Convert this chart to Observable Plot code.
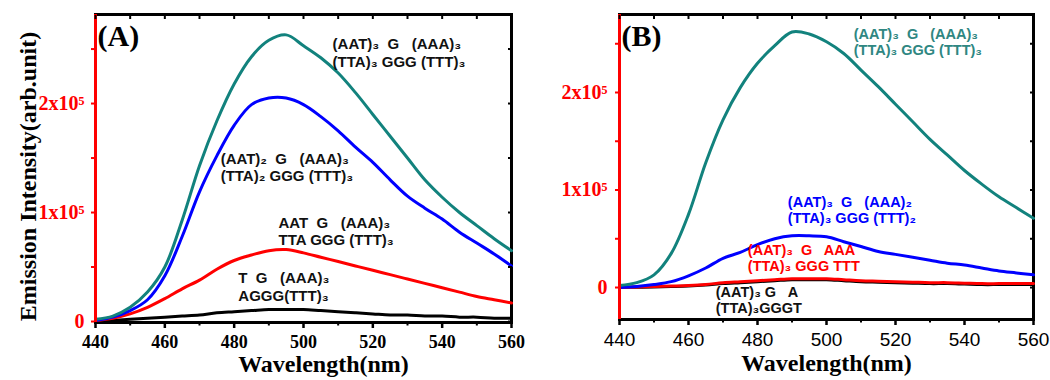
<!DOCTYPE html>
<html><head><meta charset="utf-8">
<script src="https://cdn.jsdelivr.net/npm/d3@7"></script>
<script src="https://cdn.jsdelivr.net/npm/@observablehq/plot@0.6"></script>
<style>
html,body{margin:0;padding:0;background:#fff;}
#wrap{display:flex;width:1050px;height:380px;overflow:hidden;}
#wrap > div{width:525px;height:380px;}
svg{overflow:visible;}
svg text{white-space:pre;}
</style></head><body><div id="wrap"><div id="a"></div><div id="b"></div></div>
<script>
// Wavelength grid (nm)
const wavelength = [440,445,450,455,460,465,470,475,480,485,490,495,500,505,510,515,520,525,530,535,540,545,550,555,560];

// Panel A intensities (units of 1e5 arb.)
const aTeal  = [0.02,0.05,0.13,0.27,0.50,0.93,1.43,1.84,2.18,2.43,2.58,2.63,2.53,2.42,2.28,2.10,1.90,1.70,1.50,1.30,1.14,1.00,0.88,0.76,0.65];
const aBlue  = [0.01,0.04,0.10,0.20,0.42,0.78,1.19,1.52,1.80,1.99,2.05,2.05,1.99,1.88,1.75,1.60,1.46,1.30,1.15,1.04,0.94,0.82,0.72,0.62,0.51];
const aRed   = [0.01,0.03,0.07,0.13,0.21,0.30,0.38,0.48,0.56,0.61,0.65,0.66,0.63,0.59,0.55,0.51,0.47,0.43,0.39,0.35,0.31,0.27,0.23,0.20,0.17];
const aBlack = [0.00,0.01,0.02,0.03,0.04,0.05,0.06,0.08,0.09,0.10,0.11,0.11,0.11,0.10,0.09,0.08,0.07,0.06,0.06,0.05,0.05,0.04,0.04,0.03,0.03];

// Panel B intensities (units of 1e5 arb.)
const bTeal  = [0.02,0.05,0.13,0.35,0.75,1.28,1.72,2.05,2.30,2.48,2.62,2.60,2.52,2.40,2.23,2.06,1.88,1.70,1.52,1.36,1.20,1.06,0.93,0.82,0.71];
const bBlue  = [0.00,0.01,0.03,0.06,0.12,0.20,0.30,0.36,0.44,0.50,0.53,0.53,0.52,0.47,0.42,0.37,0.34,0.31,0.28,0.25,0.23,0.20,0.17,0.15,0.13];
const bRed   = [0.00,0.005,0.01,0.015,0.02,0.03,0.05,0.06,0.07,0.08,0.09,0.09,0.09,0.08,0.07,0.065,0.06,0.055,0.05,0.05,0.045,0.04,0.04,0.04,0.04];
const bBlack = [0.00,0.003,0.006,0.01,0.015,0.025,0.04,0.05,0.06,0.07,0.08,0.08,0.08,0.07,0.06,0.055,0.05,0.045,0.04,0.04,0.035,0.03,0.03,0.03,0.03];

// Series labels
const labelsA = [
  "(AAT)₃  G   (AAA)₃\n(TTA)₃ GGG (TTT)₃",
  "(AAT)₂  G   (AAA)₃\n(TTA)₂ GGG (TTT)₃",
  "AAT  G   (AAA)₃\nTTA GGG (TTT)₃",
  "T  G   (AAA)₃\nAGGG(TTT)₃"
];
const labelsB = [
  "(AAT)₃  G   (AAA)₃\n(TTA)₃ GGG (TTT)₃",
  "(AAT)₃  G   (AAA)₂\n(TTA)₃ GGG (TTT)₂",
  "(AAT)₃  G   AAA\n(TTA)₃ GGG TTT",
  "(AAT)₃ G   A\n(TTA)₃GGGT"
];
const seriesKeys = ["teal","blue","red","black"];

// Tick values
const xMajor = [440,460,480,500,520,540,560];
const xMinor = [450,470,490,510,530,550];
const yTicks = [0,0.5,1,1.5,2,2.5];
const panelNames = ["(A)","(B)"];
const xTitle = "Wavelength(nm)";
const yTitle = "Emission Intensity(arb.unit)";

// Styling / placement (not data)
const colors = {teal:"#12827d", blue:"#0000ff", red:"#ff0000", black:"#000000"};
const textColors = {teal:"#2f8782", blue:"#0000ff", red:"#ff0000", black:"#111111"};
const anchorsA = [[508.4,2.47],[476.1,1.42],[492.8,0.83],[481.2,0.32]];
const anchorsB = [[507.9,2.52],[488.8,0.80],[477.2,0.30],[467.9,-0.13]];

const serif = "Liberation Serif, Times New Roman, serif";
const sans = "Liberation Sans, Arial, sans-serif";

function rows(values, key) {
  return wavelength.map((w, i) => ({wavelength: w, intensity: values[i], key}));
}
const yFmt = d => d === 0 ? "0" : (Number.isInteger(d) ? d + "x10⁵" : "");

function panel(o) {
  const data = [
    ...rows(o.series.black, "black"),
    ...rows(o.series.red, "red"),
    ...rows(o.series.blue, "blue"),
    ...rows(o.series.teal, "teal")
  ];
  const lbl = o.labels.map((t, i) => ({text: t, key: seriesKeys[i], x: o.anchors[i][0], y: o.anchors[i][1]}));
  const marks = [
    Plot.frame({stroke: "black", strokeWidth: 3}),
    ...["black","red","blue","teal"].map(k =>
      Plot.line(data.filter(d => d.key === k), {x: "wavelength", y: "intensity", stroke: colors[k], strokeWidth: 3, curve: "catmull-rom"})
    ),
    Plot.ruleX([440], {stroke: "red", strokeWidth: 3}),
    Plot.axisY(yTicks, {anchor: "left", tickSize: 4, tickPadding: o.yPad, tickFormat: yFmt, color: "red", fontSize: 20, fontWeight: "bold", fontFamily: serif, strokeWidth: 2, label: null}),
    Plot.axisY(yTicks, {anchor: "right", tickSize: -4, tickFormat: () => "", strokeWidth: 2, label: null}),
    Plot.axisX(xMajor, {anchor: "bottom", tickSize: 6, tickPadding: 7, tickFormat: d => String(d), fontSize: o.xFont.size, fontWeight: o.xFont.weight, fontFamily: o.xFont.family, strokeWidth: 2.5, label: null}),
    Plot.axisX(xMinor, {anchor: "bottom", tickSize: 3.5, tickFormat: () => "", strokeWidth: 2, label: null}),
    Plot.axisX([...xMajor, ...xMinor], {anchor: "top", tickSize: -4, tickFormat: () => "", strokeWidth: 2, label: null}),
    Plot.text(lbl, {x: "x", y: "y", text: "text", fill: o.labelFill ? d => textColors[d.key] : "#111", textAnchor: "start", lineAnchor: "middle", fontSize: o.labelSize, fontWeight: "bold", fontFamily: sans, lineHeight: o.labelLH, letterSpacing: -0.3}),
    Plot.text([o.name], {frameAnchor: "top-left", dx: 2, dy: 22, textAnchor: "start", lineAnchor: "middle", fontSize: 30, fontWeight: "bold", fontFamily: serif}),
    Plot.text([xTitle], {frameAnchor: "bottom", dx: o.xTitleDx, dy: o.xTitleDy, textAnchor: "middle", lineAnchor: "middle", fontSize: 24, fontWeight: "bold", fontFamily: serif})
  ];
  if (o.showYTitle) {
    marks.push(Plot.text([yTitle], {frameAnchor: "left", rotate: -90, dx: -67, dy: 8, textAnchor: "middle", lineAnchor: "middle", fontSize: 24, fontWeight: "bold", fontFamily: serif}));
  }
  return Plot.plot({
    width: 525, height: 380,
    marginLeft: o.ml, marginRight: o.mr, marginTop: 14, marginBottom: o.mb,
    x: {domain: [440, 560]},
    y: {domain: o.yDomain},
    style: {fontFamily: serif, background: "white", color: "black", overflow: "visible"},
    marks
  });
}

document.getElementById("a").append(panel({
  series: {teal: aTeal, blue: aBlue, red: aRed, black: aBlack},
  labels: labelsA, anchors: anchorsA, name: panelNames[0],
  ml: 95, mr: 14, mb: 58, yDomain: [-0.009, 2.817], yPad: 7,
  xFont: {size: 18, weight: "bold", family: serif},
  labelFill: false, labelSize: 15, labelLH: 1.17,
  xTitleDx: 20, xTitleDy: 42, showYTitle: true
}));
document.getElementById("b").append(panel({
  series: {teal: bTeal, blue: bBlue, red: bRed, black: bBlack},
  labels: labelsB, anchors: anchorsB, name: panelNames[1],
  ml: 94, mr: 17, mb: 61, yDomain: [-0.328, 2.80], yPad: 8,
  xFont: {size: 19, weight: "normal", family: sans},
  labelFill: true, labelSize: 14.5, labelLH: 1.1,
  xTitleDx: 0, xTitleDy: 44, showYTitle: false
}));
</script>
</body></html>
